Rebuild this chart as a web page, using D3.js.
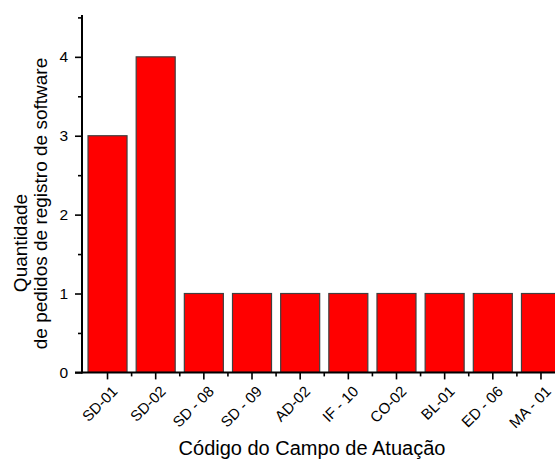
<!DOCTYPE html>
<html>
<head>
<meta charset="utf-8">
<script src="https://cdn.jsdelivr.net/npm/d3@7"></script>
<style>
  html, body { margin: 0; padding: 0; background: #fff; overflow: hidden; }
  svg { display: block; font-family: Arial, "Liberation Sans", sans-serif; }
</style>
</head>
<body>
<svg id="chart" width="555" height="459"></svg>
<script>
// Pedidos de registro de software por campo de atuação
const categories = ["SD-01", "SD-02", "SD - 08", "SD - 09", "AD-02", "IF - 10", "CO-02", "BL-01", "ED - 06", "MA - 01"];
const counts = [3, 4, 1, 1, 1, 1, 1, 1, 1, 1];
const yTicks = [0, 1, 2, 3, 4];
const yMinorTicks = [0.5, 1.5, 2.5, 3.5, 4.5];

const svg = d3.select("#chart");
const plotLeft = 82, plotRight = 566.5, plotTop = 15, plotBottom = 372.4;

const x = d3.scaleBand().domain(categories).range([plotLeft, plotRight])
  .paddingInner(0.19).paddingOuter(0.125);
const y = d3.scaleLinear().domain([0, 4.5]).range([plotBottom, 17.4]);

// bars
svg.append("g").selectAll("rect")
  .data(categories.map((c, i) => ({ c, v: counts[i] })))
  .join("rect")
  .attr("x", d => x(d.c))
  .attr("y", d => y(d.v))
  .attr("width", x.bandwidth())
  .attr("height", d => y(0) - y(d.v))
  .attr("fill", "#ff0000")
  .attr("stroke", "#404040")
  .attr("stroke-width", 1.2);

// y axis: major ticks with labels, minor ticks between them
const yAxis = svg.append("g").attr("transform", `translate(${plotLeft},0)`)
  .call(d3.axisLeft(y).tickValues(yTicks).tickFormat(d3.format("d")).tickSize(7).tickPadding(7));
yAxis.select(".domain").remove();
svg.append("g").attr("transform", `translate(${plotLeft},0)`)
  .call(d3.axisLeft(y).tickValues(yMinorTicks).tickFormat("").tickSize(4))
  .call(g => g.select(".domain").remove());
svg.append("line")
  .attr("x1", plotLeft).attr("x2", plotLeft)
  .attr("y1", plotTop).attr("y2", plotBottom + 1)
  .attr("stroke", "#000").attr("stroke-width", 2);

// x axis: ticks at bar centres, minor ticks in the gaps
const xAxis = svg.append("g").attr("transform", `translate(0,${plotBottom})`)
  .call(d3.axisBottom(x).tickSize(7).tickSizeOuter(0).tickFormat(d => d));
xAxis.select(".domain").remove();
const minorX = categories.slice(0, -1).map(c => x(c) + x.bandwidth() + x.step() * x.paddingInner() / 2);
svg.append("g").attr("transform", `translate(0,${plotBottom})`)
  .selectAll("line").data(minorX).join("line")
  .attr("x1", d => d).attr("x2", d => d).attr("y1", 0).attr("y2", 4);
svg.append("line")
  .attr("x1", plotLeft - 7).attr("x2", 555)
  .attr("y1", plotBottom).attr("y2", plotBottom)
  .attr("stroke", "#000").attr("stroke-width", 2);

svg.selectAll("g line").attr("stroke", "#000").attr("stroke-width", 1.6);
yAxis.selectAll(".tick text").attr("fill", "#000").style("font-size", "15.5px");

xAxis.selectAll(".tick text")
  .attr("fill", "#000")
  .attr("text-anchor", "end")
  .attr("x", 0).attr("y", 0).attr("dy", 0)
  .attr("transform", "translate(11,20) rotate(-45)")
  .style("font-size", "15px");

// axis titles
svg.append("text")
  .attr("x", 312).attr("y", 455)
  .attr("text-anchor", "middle")
  .style("font-size", "20px")
  .text("Código do Campo de Atuação");

const yTitle = svg.append("text")
  .attr("transform", "rotate(-90)")
  .attr("text-anchor", "middle")
  .style("font-size", "19px");
yTitle.append("tspan").attr("x", -243).attr("y", 27).text("Quantidade");
yTitle.append("tspan").attr("x", -203.5).attr("y", 47).text("de pedidos de registro de software");
</script>
</body>
</html>
